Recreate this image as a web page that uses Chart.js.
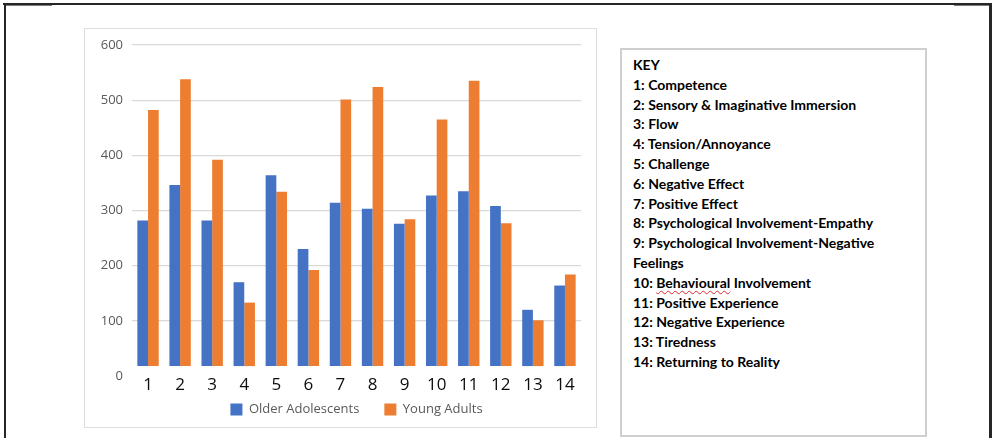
<!DOCTYPE html>
<html>
<head>
<meta charset="utf-8">
<script src="https://cdn.jsdelivr.net/npm/chart.js@4.4.1/dist/chart.umd.min.js"></script>
<style>
  html, body { margin: 0; padding: 0; background: #fff; }
  body { width: 992px; height: 438px; position: relative; overflow: hidden; }
  .line { position: absolute; background: #262626; }
  .grey { position: absolute; background: #7a7a7a; }
  #chartBox { position: absolute; left: 84px; top: 28px; width: 513px; height: 400px;
    border: 1px solid #dedede; box-sizing: border-box; }
  #chartBox canvas { position: absolute; left: -1px; top: -1px; }
  #keyBox { position: absolute; left: 620px; top: 48px; width: 307px; height: 389px;
    border: 2px solid #cfcfcf; box-sizing: border-box; padding: 5px 0 0 11px;
    font-family: Lato, "Liberation Sans", sans-serif; font-weight: bold; font-size: 14px;
    line-height: 19.8px; color: #000; }
  .squiggle { text-decoration: underline wavy #e0292b; text-decoration-thickness: 1px;
    text-underline-offset: 2px; }
</style>
</head>
<body>
<div class="line" style="left:3px; top:3px; width:989px; height:2px;"></div>
<div class="line" style="left:4px; top:3px; width:2px; height:435px;"></div>
<div class="line" style="left:989px; top:3px; width:3px; height:435px;"></div>
<div class="grey" style="left:6px; top:5px; width:46px; height:1px;"></div>
<div class="grey" style="left:954px; top:5px; width:35px; height:1px;"></div>

<div id="chartBox"><canvas id="chart" width="513" height="400"></canvas></div>

<div id="keyBox">
  <div>KEY</div>
  <div>1: Competence</div>
  <div>2: Sensory &amp; Imaginative Immersion</div>
  <div>3: Flow</div>
  <div>4: Tension/Annoyance</div>
  <div>5: Challenge</div>
  <div>6: Negative Effect</div>
  <div>7: Positive Effect</div>
  <div>8: Psychological Involvement-Empathy</div>
  <div>9: Psychological Involvement-Negative<br>Feelings</div>
  <div>10: <span class="squiggle">Behavioural</span> Involvement</div>
  <div>11: Positive Experience</div>
  <div>12: Negative Experience</div>
  <div>13: Tiredness</div>
  <div>14: Returning to Reality</div>
</div>

<script>
const categories = ['1', '2', '3', '4', '5', '6', '7', '8', '9', '10', '11', '12', '13', '14'];
const olderAdolescents = [282, 346, 282, 170, 364, 230, 314, 303, 276, 327, 335, 308, 120, 164];
const youngAdults = [482, 538, 392, 133, 334, 192, 501, 524, 284, 465, 535, 277, 101, 184];
const yTicks = [0, 100, 200, 300, 400, 500, 600];

const font = '"Open Sans", "Noto Sans", sans-serif';

// legend padding is also used as the gap between items; pull the row back up
const legendNudge = {
  id: 'legendNudge',
  beforeDraw(chart) {
    chart.legend.top = chart.chartArea.bottom + 2;
  }
};

new Chart(document.getElementById('chart'), {
  type: 'bar',
  data: {
    labels: categories,
    datasets: [
      { label: 'Older Adolescents', data: olderAdolescents, backgroundColor: '#4472C4', base: 18 },
      { label: 'Young Adults', data: youngAdults, backgroundColor: '#ED7D31', base: 18 }
    ]
  },
  options: {
    responsive: false,
    devicePixelRatio: 1,
    animation: false,
    categoryPercentage: 0.667,
    barPercentage: 1,
    layout: { padding: { left: 0, right: 16, top: 17, bottom: 3 } },
    plugins: {
      tooltip: { enabled: false },
      legend: {
        position: 'bottom',
        fullSize: false,
        maxHeight: 29,
        labels: {
          boxWidth: 12, boxHeight: 12, padding: 25,
          color: '#595959', font: { family: font, size: 13 }
        }
      }
    },
    scales: {
      x: {
        grid: { display: false, drawTicks: false },
        border: { display: false },
        ticks: { color: '#0d0d0d', font: { family: font, size: 17, lineHeight: 1 }, padding: 1 },
        afterFit: (s) => { s.height = 20; }
      },
      y: {
        min: yTicks[0],
        max: yTicks[yTicks.length - 1],
        afterBuildTicks: (s) => { s.ticks = yTicks.map(v => ({ value: v })); },
        grid: {
          drawTicks: false,
          color: (c) => c.tick && c.tick.value === 0 ? 'rgba(0,0,0,0)' : '#d9d9d9',
          lineWidth: 1.3
        },
        border: { display: false },
        ticks: { color: '#595959', font: { family: font, size: 13 }, padding: 9 },
        afterFit: (s) => { s.width = 48; }
      }
    }
  },
  plugins: [legendNudge]
});
</script>
</body>
</html>
